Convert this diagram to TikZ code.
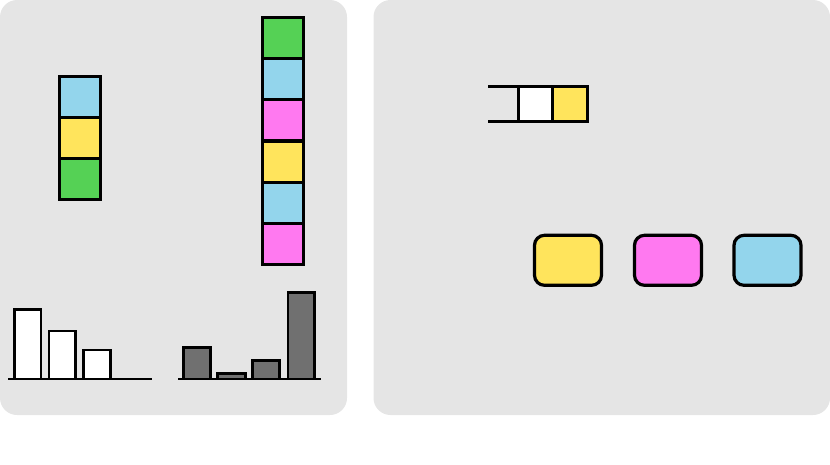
\documentclass[tikz,border=0pt]{standalone}
\usetikzlibrary{positioning}
\definecolor{panelbg}{HTML}{E5E5E5}
\definecolor{cblue}{HTML}{93D5EC}
\definecolor{cyellow}{HTML}{FFE45C}
\definecolor{cgreen}{HTML}{55D155}
\definecolor{cpink}{HTML}{FF79F0}
\definecolor{bargray}{HTML}{707070}
\tikzset{
  panel/.style={fill=panelbg, draw=none, rounded corners=17pt},
  cell/.style={draw=black, line width=2.8pt, minimum width=41pt, minimum height=41pt, inner sep=0pt, outer sep=0pt},
  qcell/.style={draw=black, line width=2.8pt, minimum width=34.5pt, minimum height=35pt, inner sep=0pt, outer sep=0pt},
  token/.style={draw=black, line width=3.2pt, rounded corners=10pt, minimum width=67pt, minimum height=50pt, inner sep=0pt},
  wbar/.style={draw=black, line width=2.8pt, fill=white},
  gbar/.style={draw=black, line width=2.8pt, fill=bargray},
  axis/.style={draw=black, line width=2.8pt},
}
\begin{document}
\begin{tikzpicture}[x=1pt,y=-1pt]
\useasboundingbox (0,0) rectangle (830,464);
% panels
\fill[panel] (0,0) rectangle (347,415);
\fill[panel] (373.5,0) rectangle (830,415);
% left stack
\node[cell, fill=cblue]   (l1) at (79.7,96.7) {};
\node[cell, fill=cyellow] (l2) at (79.7,137.7) {};
\node[cell, fill=cgreen]  (l3) at (79.7,178.7) {};
% right stack
\node[cell, fill=cgreen]  (r1) at (283,37.7) {};
\node[cell, fill=cblue]   (r2) at (283,79) {};
\node[cell, fill=cpink]   (r3) at (283,120.3) {};
\node[cell, fill=cyellow] (r4) at (283,161.6) {};
\node[cell, fill=cblue]   (r5) at (283,202.9) {};
\node[cell, fill=cpink]   (r6) at (283,244.2) {};
% left bar chart
\draw[wbar] (14.3,379) rectangle (41,309.3);
\draw[wbar] (49,379) rectangle (75.7,331);
\draw[wbar] (83.3,379) rectangle (110.3,350);
\coordinate (la) at (8,379);
\coordinate (lb) at (152,379);
\draw[axis] (la) -- (lb);
% right bar chart
\draw[gbar] (183.3,379) rectangle (210.3,347.3);
\draw[gbar] (217.7,379) rectangle (245.3,373.5);
\draw[gbar] (252.7,379) rectangle (279.7,360.7);
\draw[gbar] (288,379) rectangle (314.3,292.7);
\coordinate (ra) at (178,379);
\coordinate (rb) at (320.7,379);
\draw[axis] (ra) -- (rb);
% queue
\node[qcell, fill=white]   (q1) at (535.5,104.2) {};
\node[qcell, fill=cyellow] (q2) at (570,104.2) {};
\coordinate (qt) at (488.3,86.7);
\coordinate (qb) at (488.3,121.7);
\draw[line width=2.8pt] (qt) -- (q1.north west);
\draw[line width=2.8pt] (qb) -- (q1.south west);
% tokens
\node[token, fill=cyellow] (t1) at (568,260.3) {};
\node[token, fill=cpink]   (t2) at (668,260.3) {};
\node[token, fill=cblue]   (t3) at (767.5,260.3) {};
\end{tikzpicture}
\end{document}
